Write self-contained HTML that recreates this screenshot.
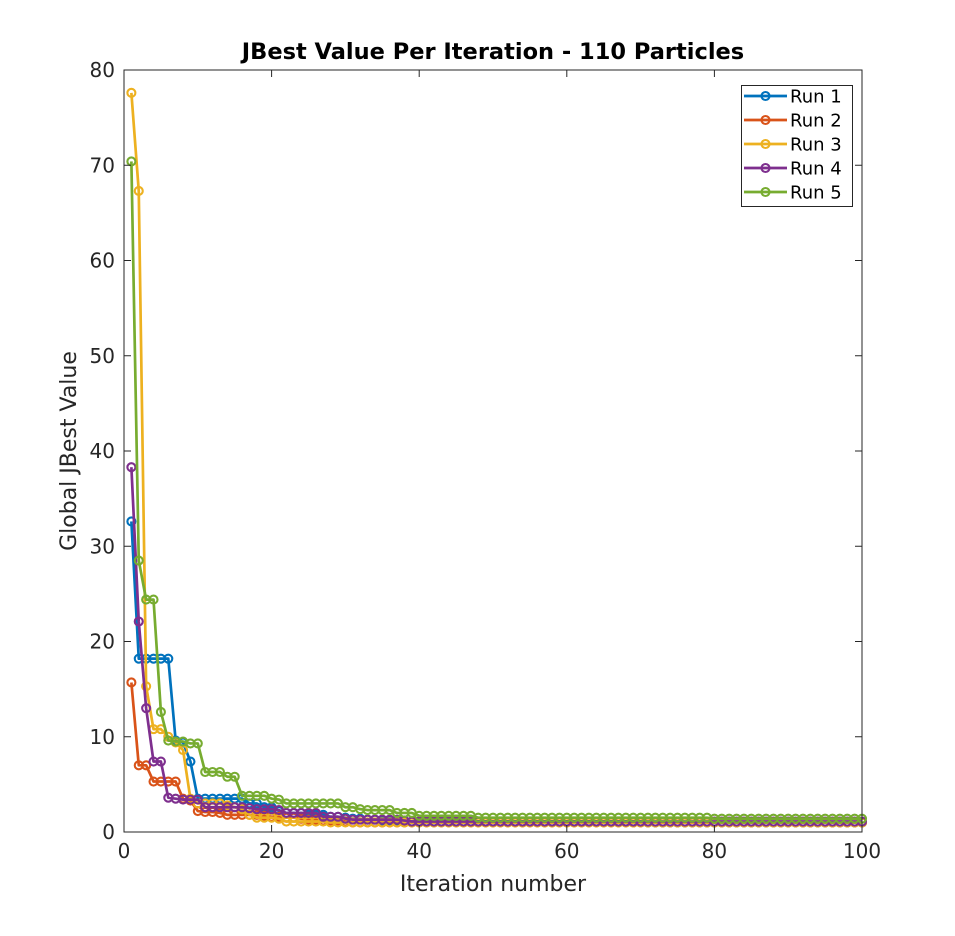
<!DOCTYPE html>
<html><head><meta charset="utf-8"><style>
body{margin:0;background:#fff;}
svg{display:block;font-family:"DejaVu Sans","Liberation Sans",sans-serif;}
</style></head><body>
<svg id="chart" width="955" height="936"></svg>
<script>
const iterations = [];
for (let i = 1; i <= 100; i++) iterations.push(i);
const run1 = [32.6,18.2,18.2,18.2,18.2,18.2,9.6,9.4,7.4,3.5, 3.5,3.5,3.5,3.5,3.5,3.5,3.0,3.0,2.6,2.6, 2.2,2.0,2.0,2.0,1.8,1.8,1.8,1.6,1.6,1.5, 1.4,1.4,1.3,1.3,1.2,1.2,1.2,1.1,1.1,1.1, 1.1,1.1,1.1,1.1,1.1,1.1,1.1,1.1,1.1,1.1, 1.1,1.1,1.1,1.1,1.1,1.1,1.1,1.1,1.1,1.1, 1.1,1.1,1.1,1.1,1.1,1.1,1.1,1.1,1.1,1.1, 1.0,1.0,1.0,1.0,1.0,1.0,1.0,1.0,1.0,1.0, 1.0,1.0,1.0,1.0,1.0,1.0,1.0,1.0,1.0,1.0, 1.0,1.0,1.0,1.0,1.0,1.0,1.0,1.0,1.0,1.0];
const run2 = [15.7,7.0,7.0,5.3,5.3,5.3,5.3,3.5,3.3,2.2, 2.1,2.1,2.0,1.8,1.8,1.8,1.8,1.8,1.7,1.6, 1.6,1.5,1.5,1.4,1.3,1.3,1.2,1.2,1.2,1.1, 1.0,1.0,1.0,1.0,1.0,1.0,1.0,1.0,1.0,1.0, 1.0,1.0,1.0,1.0,1.0,1.0,1.0,1.0,1.0,1.0, 1.0,1.0,1.0,1.0,1.0,1.0,1.0,1.0,1.0,1.0, 1.0,1.0,1.0,1.0,1.0,1.0,1.0,1.0,1.0,1.0, 1.0,1.0,1.0,1.0,1.0,1.0,1.0,1.0,1.0,1.0, 1.0,1.0,1.0,1.0,1.0,1.0,1.0,1.0,1.0,1.0, 1.0,1.0,1.0,1.0,1.0,1.0,1.0,1.0,1.0,1.0];
const run3 = [77.6,67.3,15.3,10.8,10.8,10.0,9.4,8.6,3.5,3.0, 3.0,3.0,3.0,2.8,2.6,2.4,1.8,1.5,1.5,1.5, 1.4,1.1,1.1,1.1,1.1,1.1,1.1,1.0,1.0,1.0, 1.0,1.0,1.0,1.0,1.0,1.0,1.0,1.0,1.0,1.0, 1.0,1.0,1.0,1.0,1.0,1.0,1.0,1.0,1.0,1.0, 1.0,1.0,1.0,1.0,1.0,1.0,1.0,1.0,1.0,1.0, 1.0,1.0,1.0,1.0,1.0,1.0,1.0,1.0,1.0,1.0, 1.0,1.0,1.0,1.0,1.0,1.0,1.0,1.0,1.0,1.0, 1.0,1.0,1.0,1.0,1.0,1.0,1.0,1.0,1.0,1.0, 1.0,1.0,1.0,1.0,1.0,1.0,1.0,1.0,1.0,1.0];
const run4 = [38.3,22.1,13.0,7.4,7.4,3.6,3.5,3.4,3.4,3.4, 2.6,2.6,2.6,2.6,2.6,2.6,2.5,2.4,2.4,2.4, 2.3,2.0,2.0,2.0,2.0,2.0,1.6,1.6,1.6,1.4, 1.3,1.3,1.3,1.3,1.3,1.3,1.3,1.2,1.1,1.1, 1.1,1.1,1.1,1.1,1.1,1.1,1.1,1.1,1.1,1.1, 1.1,1.1,1.1,1.1,1.1,1.1,1.1,1.1,1.1,1.1, 1.1,1.1,1.1,1.1,1.1,1.1,1.1,1.1,1.1,1.1, 1.1,1.1,1.1,1.1,1.1,1.1,1.1,1.1,1.1,1.1, 1.1,1.1,1.1,1.1,1.1,1.1,1.1,1.1,1.1,1.1, 1.1,1.1,1.1,1.1,1.1,1.1,1.1,1.1,1.1,1.1];
const run5 = [70.4,28.5,24.4,24.4,12.6,9.6,9.5,9.5,9.3,9.3, 6.3,6.3,6.3,5.8,5.8,3.8,3.8,3.8,3.8,3.5, 3.4,3.0,3.0,3.0,3.0,3.0,3.0,3.0,3.0,2.6, 2.6,2.4,2.3,2.3,2.3,2.3,2.0,2.0,2.0,1.7, 1.7,1.7,1.7,1.7,1.7,1.7,1.7,1.5,1.5,1.5, 1.5,1.5,1.5,1.5,1.5,1.5,1.5,1.5,1.5,1.5, 1.5,1.5,1.5,1.5,1.5,1.5,1.5,1.5,1.5,1.5, 1.5,1.5,1.5,1.5,1.5,1.5,1.5,1.5,1.5,1.4, 1.4,1.4,1.4,1.4,1.4,1.4,1.4,1.4,1.4,1.4, 1.4,1.4,1.4,1.4,1.4,1.4,1.4,1.4,1.4,1.4];
const xTicks = [0,20,40,60,80,100];
const yTicks = [0,10,20,30,40,50,60,70,80];
const seriesNames = ["Run 1","Run 2","Run 3","Run 4","Run 5"];
const seriesColors = ["#0072BD","#D95319","#EDB120","#7E2F8E","#77AC30"];
const seriesData = [run1,run2,run3,run4,run5];

const L=124,R=862,T=70,B=832;
const xs=v=>L+(v-0)/(100-0)*(R-L);
const ys=v=>B-(v-0)/(80-0)*(B-T);
const NS="http://www.w3.org/2000/svg";
const svg=document.getElementById('chart');
function mk(tag,attrs,parent){const e=document.createElementNS(NS,tag);for(const k in attrs)e.setAttribute(k,attrs[k]);(parent||svg).appendChild(e);return e;}

const frame=mk('rect',{x:L,y:T,width:R-L,height:B-T,fill:'#fff',stroke:'none'});



seriesData.forEach((d,si)=>{
  const g=mk('g',{});
  
  
  const pts=d.map((v,i)=>xs(iterations[i]).toFixed(2)+','+ys(v).toFixed(2)).join(' ');
  const pl=mk('polyline',{points:pts,fill:'none',stroke:seriesColors[si],'stroke-width':2.7,'stroke-linejoin':'round'},g);
  
  
  d.forEach((v,i)=>{
    const c=mk('circle',{cx:xs(iterations[i]),cy:ys(v),r:4,fill:'none',stroke:seriesColors[si],'stroke-width':2.1},g);
    
    
  });
});

const box=mk('rect',{x:L,y:T,width:R-L,height:B-T,fill:'none',stroke:'#262626','stroke-width':1});



xTicks.forEach(t=>{
  const x=xs(t);
  mk('line',{x1:x,y1:B,x2:x,y2:B-7,stroke:'#262626'});
  mk('line',{x1:x,y1:T,x2:x,y2:T+7,stroke:'#262626'});
  const tx=mk('text',{x:x,y:B+26,'text-anchor':'middle','font-size':20,fill:'#262626'});
  tx.textContent=t;
  
  
});
yTicks.forEach(t=>{
  const y=ys(t);
  mk('line',{x1:L,y1:y,x2:L+7,y2:y,stroke:'#262626'});
  mk('line',{x1:R,y1:y,x2:R-7,y2:y,stroke:'#262626'});
  const tx=mk('text',{x:L-9,y:y+7,'text-anchor':'end','font-size':20,fill:'#262626'});
  tx.textContent=t;
  
  
});

const title=mk('text',{x:(L+R)/2,y:59,'text-anchor':'middle','font-size':22.5,'font-weight':'bold',fill:'#000'});
title.textContent='JBest Value Per Iteration - 110 Particles';



const xl=mk('text',{x:(L+R)/2,y:891,'text-anchor':'middle','font-size':22,fill:'#262626'});
xl.textContent='Iteration number';



const yl=mk('text',{x:0,y:0,'text-anchor':'middle','font-size':22,fill:'#262626',transform:'translate(76,451) rotate(-90)'});
yl.textContent='Global JBest Value';



const lg=mk('g',{});


mk('rect',{x:741.5,y:85.5,width:111,height:121,fill:'#fff',stroke:'#262626','stroke-width':1},lg);
seriesNames.forEach((n,i)=>{
  const y=96+i*24;
  const e=mk('g',{},lg);
  
  
  mk('line',{x1:744,y1:y,x2:787,y2:y,stroke:seriesColors[i],'stroke-width':2.7},e);
  mk('circle',{cx:765.5,cy:y,r:4,fill:'none',stroke:seriesColors[i],'stroke-width':2.1},e);
  const t=mk('text',{x:790,y:y+6.5,'font-size':18,fill:'#000'},e);
  t.textContent=n;
});
</script>
</body></html>
